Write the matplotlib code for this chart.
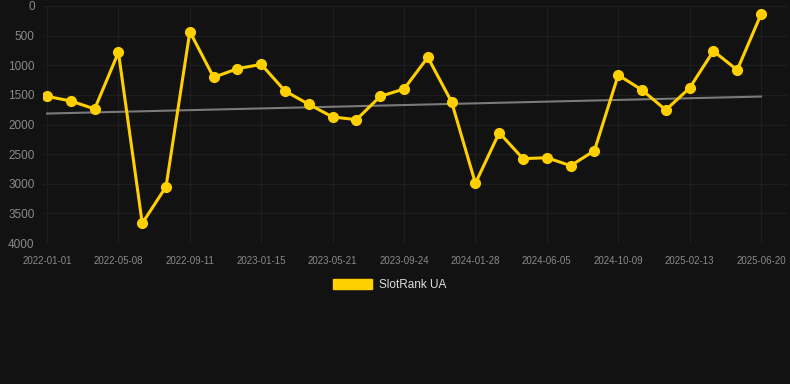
import numpy as np
import matplotlib
matplotlib.use("Agg")
import matplotlib.pyplot as plt
from matplotlib.patches import Patch

plt.rcParams['font.family'] = ['Liberation Sans', 'DejaVu Sans']

# rank per sample (lower is better), one sample every ~42 days
ranks = [1525, 1603, 1738, 782, 3668, 3049, 433, 1204, 1058, 985,
         1435, 1660, 1873, 1918, 1525, 1401, 866, 1620, 2993, 2138,
         2577, 2560, 2695, 2442, 1165, 1418, 1755, 1384, 760, 1080, 141]
tick_labels = ["2022-01-01", "2022-05-08", "2022-09-11", "2023-01-15",
               "2023-05-21", "2023-09-24", "2024-01-28", "2024-06-05",
               "2024-10-09", "2025-02-13", "2025-06-20"]
trend = [1815, 1528]
yticks = [0, 500, 1000, 1500, 2000, 2500, 3000, 3500, 4000]

bg = "#121212"
gold = "#FFD000"

fig = plt.figure(figsize=(7.9, 3.84), dpi=100, facecolor=bg)
ax = fig.add_axes([43 / 790, 1 - 243 / 384, (787 - 43) / 790, (243 - 6) / 384])
ax.set_facecolor(bg)

x = np.arange(len(ranks))
ax.plot([x[0], x[-1]], trend, color="#7a7a7a", lw=1.5, zorder=2)
ax.plot(x, ranks, color=gold, lw=2.2, marker="o", ms=7, zorder=3)

ax.set_ylim(4000, 0)
ax.set_xlim(-0.17, 30 + (787 - 761) / 23.8)
ax.set_yticks(yticks)
ax.set_yticklabels([str(v) for v in yticks])
ax.set_xticks(x[::3])
ax.set_xticklabels(tick_labels)

ax.grid(True, color="#1e1e1e", lw=0.8)
for s in ax.spines.values():
    s.set_visible(False)
ax.tick_params(axis="y", length=0, pad=6, labelsize=8.5, labelcolor="#8a8a8a")
ax.tick_params(axis="x", length=0, pad=9, labelsize=7, labelcolor="#8a8a8a")

leg = fig.legend(handles=[Patch(facecolor=gold, edgecolor=gold, label="SlotRank UA")],
                 loc="center", bbox_to_anchor=(390 / 790, 1 - 285 / 384),
                 frameon=False, fontsize=8.5, handlelength=3.3, handleheight=1.0,
                 handletextpad=0.6)
for t in leg.get_texts():
    t.set_color("#dddddd")

fig.savefig("out.png", dpi=100, facecolor=bg)
